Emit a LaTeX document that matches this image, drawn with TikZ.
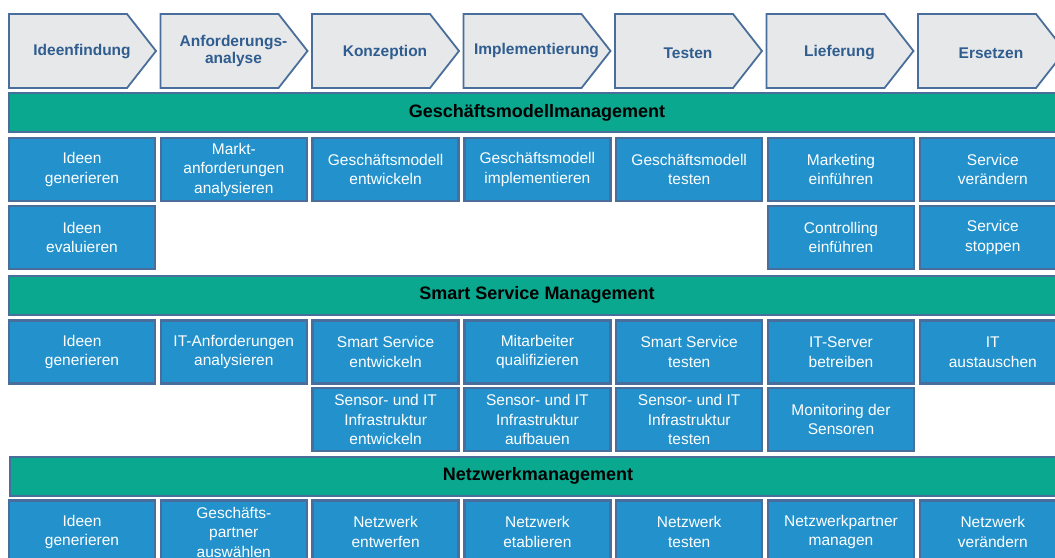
\documentclass[tikz,border=0pt]{standalone}
\usepackage{fontspec}
\setmainfont{Liberation Sans}

\definecolor{phasefill}{HTML}{E7E8E9}
\definecolor{phaseblue}{HTML}{2F5D90}
\definecolor{rim}{HTML}{4A6E9B}
\definecolor{lanegreen}{HTML}{0AA88F}
\definecolor{taskblue}{HTML}{2392CC}

\begin{document}
\begin{tikzpicture}[x=1pt, y=-1pt]
    \tikzstyle{phase}=[draw=rim, line width=1.8pt, fill=phasefill]
    \tikzstyle{phasetext}=[text=phaseblue, align=center, font=\fontsize{15.5}{17}\selectfont\bfseries]
    \tikzstyle{lane}=[draw=rim, line width=2pt, fill=lanegreen, minimum width=1056pt, minimum height=39pt, font=\fontsize{18}{20}\selectfont\bfseries]
    \tikzstyle{task}=[draw=rim, line width=2.4pt, fill=taskblue, text=white, minimum width=146pt, minimum height=63pt, inner sep=0pt, align=center, font=\fontsize{15.5}{19.5}\selectfont]

    \path[use as bounding box, clip] (0,0) rectangle (1055,557);

    % Phases
    \draw[phase] (9,14) -- ++(118,0) -- ++(29,37) -- ++(-29,37) -- ++(-118,0) -- cycle;
    \draw[phase] (160.5,14) -- ++(118,0) -- ++(29,37) -- ++(-29,37) -- ++(-118,0) -- cycle;
    \draw[phase] (312,14) -- ++(118,0) -- ++(29,37) -- ++(-29,37) -- ++(-118,0) -- cycle;
    \draw[phase] (463.5,14) -- ++(118,0) -- ++(29,37) -- ++(-29,37) -- ++(-118,0) -- cycle;
    \draw[phase] (615,14) -- ++(118,0) -- ++(29,37) -- ++(-29,37) -- ++(-118,0) -- cycle;
    \draw[phase] (766.5,14) -- ++(118,0) -- ++(29,37) -- ++(-29,37) -- ++(-118,0) -- cycle;
    \draw[phase] (918,14) -- ++(118,0) -- ++(29,37) -- ++(-29,37) -- ++(-118,0) -- cycle;

    \node[phasetext] (p1) at (82, 52) {Ideenfindung};
    \node[phasetext] (p2) at (233.5, 51) {Anforderungs-\\analyse};
    \node[phasetext] (p3) at (385, 52) {Konzeption};
    \node[phasetext] (p4) at (536.5, 51) {Implementierung};
    \node[phasetext] (p5) at (688, 53) {Testen};
    \node[phasetext] (p6) at (839.5, 53) {Lieferung};
    \node[phasetext] (p7) at (991, 53) {Ersetzen};

    % Geschaeftsmodellmanagement
    \node[lane] (gm) at (537, 112.5) {Geschäftsmodellmanagement};
    \node[task] (gm1) at (82, 169.5) {Ideen\\generieren};
    \node[task] (gm2) at (233.8, 169.5) {Markt-\\anforderungen\\analysieren};
    \node[task] (gm3) at (385.6, 169.5) {Geschäftsmodell\\entwickeln};
    \node[task] (gm4) at (537.4, 169.5) {Geschäftsmodell\\implementieren};
    \node[task] (gm5) at (689.2, 169.5) {Geschäftsmodell\\testen};
    \node[task] (gm6) at (841, 169.5) {Marketing\\einführen};
    \node[task] (gm7) at (992.8, 169.5) {Service\\verändern};
    \node[task] (gm8) at (82, 237.5) {Ideen\\evaluieren};
    \node[task] (gm9) at (841, 237.5) {Controlling\\einführen};
    \node[task] (gm10) at (992.8, 237.5) {Service\\stoppen};

    % Smart Service Management
    \node[lane] (ss) at (537, 295) {Smart Service Management};
    \node[task] (ss1) at (82, 352) {Ideen\\generieren};
    \node[task] (ss2) at (233.8, 352) {IT-Anforderungen\\analysieren};
    \node[task] (ss3) at (385.6, 352) {Smart Service\\entwickeln};
    \node[task] (ss4) at (537.4, 352) {Mitarbeiter\\qualifizieren};
    \node[task] (ss5) at (689.2, 352) {Smart Service\\testen};
    \node[task] (ss6) at (841, 352) {IT-Server\\betreiben};
    \node[task] (ss7) at (992.8, 352) {IT\\austauschen};
    \node[task] (ss8) at (385.6, 419.5) {Sensor- und IT\\Infrastruktur\\entwickeln};
    \node[task] (ss9) at (537.4, 419.5) {Sensor- und IT\\Infrastruktur\\aufbauen};
    \node[task] (ss10) at (689.2, 419.5) {Sensor- und IT\\Infrastruktur\\testen};
    \node[task] (ss11) at (841, 419.5) {Monitoring der\\Sensoren};

    % Netzwerkmanagement
    \node[lane] (nm) at (538, 476) {Netzwerkmanagement};
    \node[task] (nm1) at (82, 532) {Ideen\\generieren};
    \node[task] (nm2) at (233.8, 532) {Geschäfts-\\partner\\auswählen};
    \node[task] (nm3) at (385.6, 532) {Netzwerk\\entwerfen};
    \node[task] (nm4) at (537.4, 532) {Netzwerk\\etablieren};
    \node[task] (nm5) at (689.2, 532) {Netzwerk\\testen};
    \node[task] (nm6) at (841, 532) {Netzwerkpartner\\managen};
    \node[task] (nm7) at (992.8, 532) {Netzwerk\\verändern};
\end{tikzpicture}
\end{document}
